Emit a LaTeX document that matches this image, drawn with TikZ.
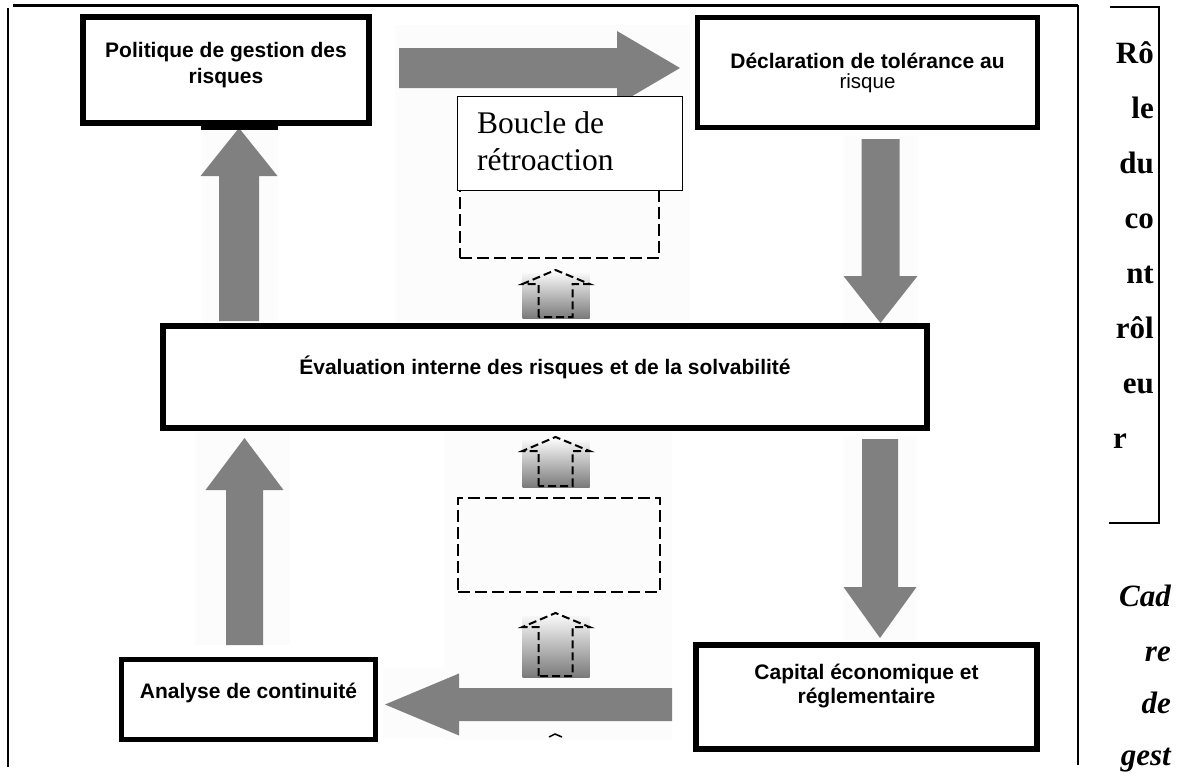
\documentclass[tikz,border=0pt]{standalone}
\usepackage{fontspec}
\setmainfont{Liberation Sans}
\newfontfamily\timesfont{Liberation Serif}
\definecolor{arrowgray}{HTML}{808080}
\definecolor{palebg}{HTML}{FCFCFC}

% vertical block arrow: x centre, tail y, tip y, shaft half width, head half width, head base y
\newcommand\vblock[6]{%
  \fill[arrowgray] ({#1-#4},#2) -- ({#1-#4},#6) -- ({#1-#5},#6) -- (#1,#3)
    -- ({#1+#5},#6) -- ({#1+#4},#6) -- ({#1+#4},#2) -- cycle;}
% horizontal block arrow: y centre, tail x, tip x, shaft half width, head half width, head base x
\newcommand\hblock[6]{%
  \fill[arrowgray] (#2,{#1-#4}) -- (#6,{#1-#4}) -- (#6,{#1-#5}) -- (#3,#1)
    -- (#6,{#1+#5}) -- (#6,{#1+#4}) -- (#2,{#1+#4}) -- cycle;}
% small shaded arrow with a dashed outline: x centre, tip y, bottom y
\newcommand\smallup[3]{%
  \shade[top color=black!3, bottom color=black!52] ({#1-33},{#2+3}) rectangle ({#1+34},#3);
  \draw[smalldash] ({#1-17},{#3-1}) -- ({#1-17},{#2+14}) -- ({#1-33},{#2+14}) -- (#1,#2)
    -- ({#1+34},{#2+14}) -- ({#1+17},{#2+14}) -- ({#1+17},{#3-1}) -- cycle;}

\begin{document}
\begin{tikzpicture}[x=1pt,y=-1pt,
  box/.style={draw=black, fill=white, inner sep=0pt},
  dashbox/.style={draw=black, line width=2.4pt, dash pattern=on 12pt off 5pt, inner sep=0pt},
  smalldash/.style={draw=black, line width=2pt, dash pattern=on 8pt off 4pt},
  sanslbl/.style={inner sep=0pt, anchor=base, font=\fontsize{21}{25}\selectfont\bfseries},
  sideR/.style={inner sep=0pt, anchor=base east, font=\timesfont\fontsize{31}{35}\selectfont\bfseries},
  sideC/.style={inner sep=0pt, anchor=base east, font=\timesfont\fontsize{31}{35}\selectfont\bfseries\itshape}]
\useasboundingbox (0,0) rectangle (1183,780);
\fill[white] (0,0) rectangle (1183,780);

% pale backdrops behind the arrows
\fill[palebg] (202,130) rectangle (278,322);
\fill[palebg] (195,432) rectangle (290,645);
\fill[palebg] (843,136) rectangle (918,324);
\fill[palebg] (843,436) rectangle (917,640);
\fill[palebg] (395,25) rectangle (690,322);
\fill[palebg] (444,432) rectangle (672,740);
\fill[palebg] (383,668) rectangle (444,738);

% outer frame
\draw[line width=3pt] (13,5) -- (1078,5);
\draw[line width=2pt] (8,8) -- (8,767);
\draw[line width=2pt] (1078,5) -- (1078,765);

% block arrows of the cycle
\vblock{239}{321}{128}{20}{38.5}{176}
\fill[black] (201,126) rectangle (278,130);
\hblock{68}{399}{680}{20}{37}{617}
\vblock{880.5}{139}{323}{19}{37}{276}
\vblock{880}{439}{638}{18}{36.5}{587}
\hblock{704.5}{672}{385}{16.5}{31}{459}
\vblock{244.5}{645}{438}{18.5}{39}{490}

% boxes
\node[box, line width=6pt, minimum width=286pt, minimum height=106pt] (pol) at (226,70) {};
\node[box, line width=5pt, minimum width=340pt, minimum height=110pt] (decl) at (867.5,72.5) {};
\node[box, line width=6pt, minimum width=764pt, minimum height=102pt] (eval) at (545,377) {};
\node[box, line width=6pt, minimum width=341pt, minimum height=104pt] (cap) at (866.5,697) {};
\node[box, line width=5pt, minimum width=254pt, minimum height=80pt] (ana) at (248.5,699.5) {};

% feedback loop: dashed frames and small arrows
\node[dashbox, minimum width=199pt, minimum height=78pt] (fb1) at (559.5,219) {};
\node[dashbox, minimum width=202pt, minimum height=94pt] (fb2) at (559,545) {};
\node[box, line width=1.3pt, minimum width=225pt, minimum height=94pt] (loop) at (570,143.5) {};
\smallup{555.5}{270}{318}
\smallup{555.5}{437}{487}
\smallup{555.5}{613}{677}
\draw[line width=1.5pt] (549,737) -- (555,734) -- (562,737);

% box texts
\node[sanslbl] (pol1) at (226,57) {Politique de gestion des};
\node[sanslbl] (pol2) at (226,83) {risques};
\node[sanslbl] (decl1) at (867.5,68) {Déclaration de tolérance au};
\node[sanslbl, font=\fontsize{20.5}{24}\selectfont] (decl2) at (867.5,88) {risque};
\node[sanslbl] (eval1) at (545,374) {Évaluation interne des risques et de la solvabilité};
\node[sanslbl] (cap1) at (866.5,679) {Capital économique et};
\node[sanslbl] (cap2) at (866.5,703) {réglementaire};
\node[sanslbl] (ana1) at (248.5,698) {Analyse de continuité};
\node[inner sep=0pt, anchor=base west, font=\timesfont\fontsize{31.5}{36}\selectfont] (loop1) at (477,133) {Boucle de};
\node[inner sep=0pt, anchor=base west, font=\timesfont\fontsize{31.5}{36}\selectfont] (loop2) at (477,170) {rétroaction};

% side column: controller role
\draw[line width=2pt] (1110,7) -- (1159,7) -- (1159,523) -- (1109,523);
\node[sideR] (r1) at (1154,63) {Rô};
\node[sideR] (r2) at (1154,118) {le};
\node[sideR] (r3) at (1154,173) {du};
\node[sideR] (r4) at (1154,228) {co};
\node[sideR] (r5) at (1154,283) {nt};
\node[sideR] (r6) at (1154,338) {rôl};
\node[sideR] (r7) at (1154,393) {eu};
\node[sideR, anchor=base west] (r8) at (1113,448) {r};

% side column: management framework
\node[sideC] (c1) at (1171,606) {Cad};
\node[sideC] (c2) at (1171,661) {re};
\node[sideC] (c3) at (1171,713) {de};
\node[sideC] (c4) at (1171,765) {gest};
\end{tikzpicture}
\end{document}
